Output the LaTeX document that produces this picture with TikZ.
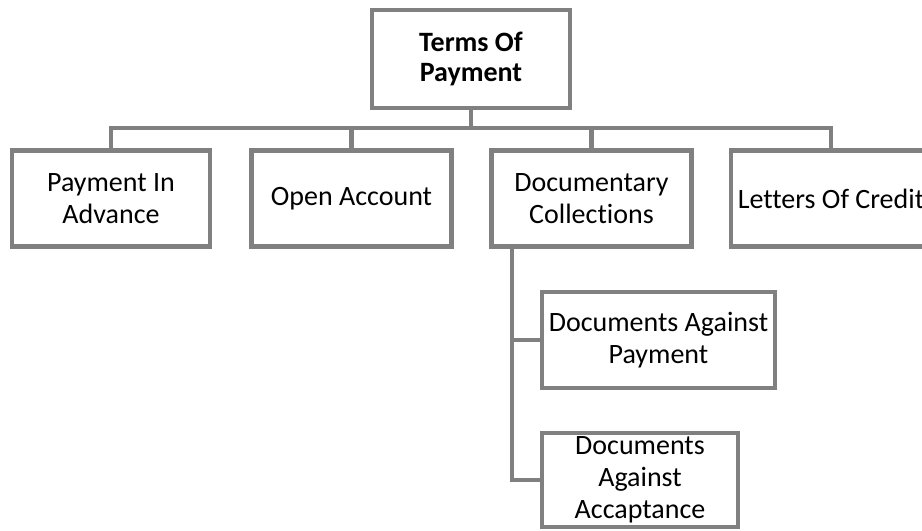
\documentclass[tikz,border=0pt]{standalone}
\usepackage{fontspec}
\setmainfont[Ligatures=NoCommon]{Carlito}
\definecolor{linegray}{RGB}{128,128,128}
\tikzset{
  termbox/.style={draw=linegray, line width=3.2pt, fill=white, align=center,
    minimum width=150pt, minimum height=72pt, inner sep=2pt,
    font=\fontsize{21}{24}\selectfont},
  link/.style={draw=linegray, line width=3.2pt, line join=miter}
}
\begin{document}
\begin{tikzpicture}[x=0.75pt,y=0.75pt,yscale=-1,xscale=1]
\useasboundingbox (0,0) rectangle (922,531);

%Shape: Rectangle [top]
\node [termbox, minimum width=148.5pt, minimum height=73.5pt,
  font=\fontsize{21}{22.5}\selectfont\bfseries] (terms) at (471,59) {Terms Of\\Payment};

%Shape: Rectangle [row]
\node [termbox, minimum width=148.5pt] (advance) at (111,198.5) {Payment In\\Advance};
\node [termbox] (open) at (351.5,198.5) {Open Account};
\node [termbox] (collect) at (591.5,198.5) {Documentary\\Collections};
\node [termbox] (credit) at (831,198.5) {Letters Of Credit};

%Shape: Rectangle [sub]
\node [termbox, minimum width=174.75pt] (dap) at (658.5,340) {Documents Against\\Payment};
\node [termbox, minimum width=147pt, minimum height=70.5pt] (daa) at (640,480) {Documents\\Against\\Accaptance};

%Straight Lines
\coordinate (bar) at (471,128);
\coordinate (trunk) at (512,246);
\draw [link] (terms.south) -- (terms.south |- bar);
\draw [link] (advance.north) |- (credit.north |- bar) -- (credit.north);
\foreach \n in {open,collect}
  \draw [link] (\n.north) -- (\n.north |- bar);

\draw [link] (trunk) |- (daa.west);
\draw [link] (trunk |- dap.west) -- (dap.west);

\end{tikzpicture}
\end{document}
